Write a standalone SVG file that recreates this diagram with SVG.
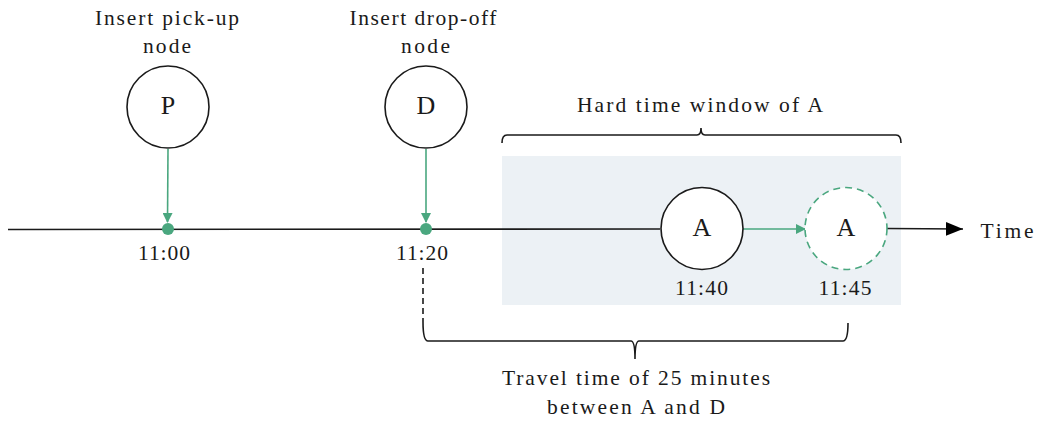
<svg xmlns="http://www.w3.org/2000/svg" width="1038" height="421" viewBox="0 0 1038 421">
<defs>
<style>
text{font-family:"Liberation Serif","DejaVu Serif",serif;fill:#1a1a1a;text-anchor:middle}
.lbl{font-size:21.5px}
.nl{font-size:26px}
.node{fill:#fff;stroke:#1a1a1a;stroke-width:1.6}
.green{stroke:#4aa77f;stroke-width:1.6;fill:none}
.blk{stroke:#1a1a1a;stroke-width:1.6;fill:none}
</style>
<marker id="ga" markerWidth="10" markerHeight="10" refX="9" refY="5" orient="auto" markerUnits="userSpaceOnUse"><path d="M0,0 L10,5 L0,10 Z" fill="#4aa77f"/></marker>
<marker id="ba" markerWidth="18" markerHeight="16" refX="17" refY="8" orient="auto" markerUnits="userSpaceOnUse"><path d="M0,1 L17,8 L0,15 Z" fill="#000"/></marker>
</defs>
<rect x="502" y="156" width="399" height="149" fill="#ecf1f5"/>
<g id="connectors">
<path class="blk" d="M8,229.5 L660,229"/>
<path class="blk" d="M887,228.5 L963,229" marker-end="url(#ba)"/>
<path class="green" d="M168,149 L167.5,222" marker-end="url(#ga)"/>
<path class="green" d="M426,149 L426,222" marker-end="url(#ga)"/>
<path class="green" d="M743,229 L805,229" marker-end="url(#ga)"/>
<path class="blk" d="M423,268 L423,322" stroke-dasharray="6,4"/>
</g>
<g id="brace-top">
<path class="blk" d="M502,143 Q502,135 507,135 L697,135 Q701,135 701,128 Q701,135 705,135 L896,135 Q901,135 901,143"/>
<text class="lbl" x="700" y="112" textLength="246" lengthAdjust="spacing">Hard time window of A</text>
</g>
<g id="brace-bottom">
<path class="blk" d="M423,322 Q423,341 428,341 L631,341 Q635,341 635,359 Q635,341 639,341 L843,341 Q848,341 848,323"/>
<text class="lbl" x="636" y="385" textLength="268" lengthAdjust="spacing">Travel time of 25 minutes</text>
<text class="lbl" x="636" y="414" textLength="178" lengthAdjust="spacing">between A and D</text>
</g>
<g id="node-P">
<text class="lbl" x="167" y="25" textLength="144" lengthAdjust="spacing">Insert pick-up</text>
<text class="lbl" x="167" y="53" textLength="48" lengthAdjust="spacing">node</text>
<circle class="node" cx="168" cy="107" r="41"/>
<text class="nl" x="168" y="114">P</text>
</g>
<g id="node-D">
<text class="lbl" x="423" y="25" textLength="147" lengthAdjust="spacing">Insert drop-off</text>
<text class="lbl" x="425.5" y="53" textLength="49" lengthAdjust="spacing">node</text>
<circle class="node" cx="426" cy="107" r="41"/>
<text class="nl" x="426" y="114">D</text>
</g>
<g id="dot-1100">
<circle cx="168" cy="229" r="6" fill="#4aa77f"/>
<text class="lbl" x="164" y="260" textLength="52" lengthAdjust="spacing">11:00</text>
</g>
<g id="dot-1120">
<circle cx="426" cy="229" r="6" fill="#4aa77f"/>
<text class="lbl" x="422" y="260" textLength="52" lengthAdjust="spacing">11:20</text>
</g>
<g id="node-A">
<circle class="node" cx="702" cy="228.5" r="41"/>
<text class="nl" x="702" y="236">A</text>
<text class="lbl" x="701.5" y="295" textLength="53" lengthAdjust="spacing">11:40</text>
</g>
<g id="node-A2">
<circle cx="846" cy="228.5" r="41" fill="#fff" stroke="#4aa77f" stroke-width="1.6" stroke-dasharray="7,5"/>
<text class="nl" x="846" y="236">A</text>
<text class="lbl" x="845" y="295" textLength="53" lengthAdjust="spacing">11:45</text>
</g>
<g id="time-label">
<text class="lbl" x="1007" y="238" textLength="53" lengthAdjust="spacing">Time</text>
</g>
</svg>
